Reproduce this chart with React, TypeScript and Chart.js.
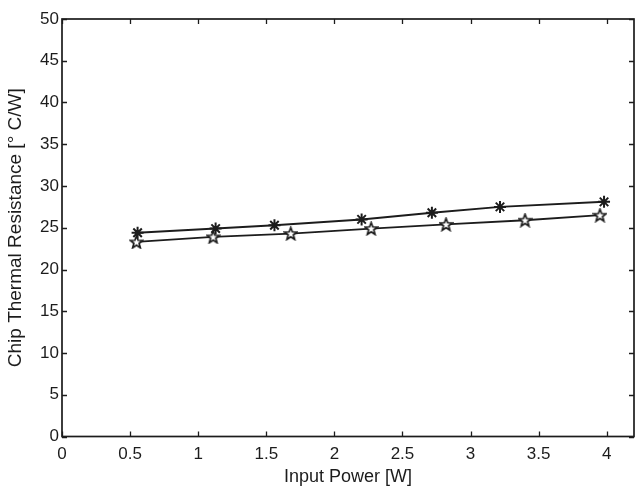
import React, { useEffect, useRef } from 'react';
import { Chart, registerables } from 'chart.js';

Chart.register(...registerables);

// Upper series (asterisk markers)
const powerUpper = [0.555, 1.128, 1.56, 2.2, 2.716, 3.216, 3.98];
const resistanceUpper = [24.4, 24.9, 25.3, 26.0, 26.8, 27.5, 28.1];
// Lower series (pentagram markers)
const powerLower = [0.547, 1.11, 1.68, 2.27, 2.82, 3.4, 3.95];
const resistanceLower = [23.3, 23.9, 24.3, 24.9, 25.4, 25.9, 26.5];

const xTickValues = [0, 0.5, 1, 1.5, 2, 2.5, 3, 3.5, 4];
const yTickValues = [0, 5, 10, 15, 20, 25, 30, 35, 40, 45, 50];

const xTitle = 'Input Power [W]';
const yTitle = 'Chip Thermal Resistance [° C/W]';

const INK = '#1c1c1c';
const FONT = '"Liberation Sans", Arial, Helvetica, sans-serif';

function makePentagram(size: number): HTMLCanvasElement {
  const c = document.createElement('canvas');
  c.width = size;
  c.height = size;
  const ctx = c.getContext('2d')!;
  const cx = size / 2;
  const cy = size / 2 + 0.5;
  const R = size / 2 - 1;
  const r = R * 0.42;
  ctx.beginPath();
  for (let i = 0; i < 10; i++) {
    const rad = i % 2 === 0 ? R : r;
    const a = -Math.PI / 2 + (i * Math.PI) / 5;
    const px = cx + rad * Math.cos(a);
    const py = cy + rad * Math.sin(a);
    if (i === 0) ctx.moveTo(px, py);
    else ctx.lineTo(px, py);
  }
  ctx.closePath();
  ctx.fillStyle = '#ffffff';
  ctx.fill();
  ctx.lineWidth = 1.7;
  ctx.strokeStyle = INK;
  ctx.stroke();
  return c;
}

const boxPlugin = {
  id: 'boxTicks',
  beforeDraw(chart: any) {
    const { ctx, width, height } = chart;
    ctx.save();
    ctx.fillStyle = '#ffffff';
    ctx.fillRect(0, 0, width, height);
    ctx.restore();
  },
  afterDraw(chart: any) {
    const { ctx, chartArea } = chart;
    const { left, right, top, bottom } = chartArea;
    const xs = chart.scales.x;
    const ys = chart.scales.y;
    const len = 5;
    ctx.save();
    ctx.strokeStyle = INK;
    ctx.lineWidth = 1.3;
    ctx.beginPath();
    for (const v of xTickValues) {
      const px = Math.round(xs.getPixelForValue(v)) + 0.5;
      ctx.moveTo(px, bottom);
      ctx.lineTo(px, bottom - len);
      ctx.moveTo(px, top);
      ctx.lineTo(px, top + len);
    }
    for (const v of yTickValues) {
      const py = Math.round(ys.getPixelForValue(v)) + 0.5;
      ctx.moveTo(left, py);
      ctx.lineTo(left + len, py);
      ctx.moveTo(right, py);
      ctx.lineTo(right - len, py);
    }
    ctx.stroke();
    ctx.lineWidth = 1.7;
    ctx.strokeRect(left, top, right - left, bottom - top);
    ctx.restore();
  },
};

export default function App() {
  const ref = useRef<HTMLCanvasElement | null>(null);

  useEffect(() => {
    if (!ref.current) return;
    const star5 = makePentagram(15);
    const chart = new Chart(ref.current, {
      type: 'line',
      data: {
        datasets: [
          {
            label: 'upper',
            data: powerUpper.map((x, i) => ({ x, y: resistanceUpper[i] })),
            borderColor: INK,
            backgroundColor: INK,
            borderWidth: 2,
            pointStyle: 'star',
            pointRadius: 6,
            pointBorderWidth: 2,
            pointBorderColor: INK,
            tension: 0,
          },
          {
            label: 'lower',
            data: powerLower.map((x, i) => ({ x, y: resistanceLower[i] })),
            borderColor: INK,
            backgroundColor: INK,
            borderWidth: 1.8,
            pointStyle: star5 as any,
            pointRadius: 7,
            tension: 0,
          },
        ],
      },
      options: {
        animation: false,
        responsive: true,
        maintainAspectRatio: false,
        layout: { autoPadding: false, padding: { top: 19, right: 3, left: 0, bottom: 0 } },
        plugins: {
          legend: { display: false },
          tooltip: { enabled: false },
        },
        scales: {
          x: {
            type: 'linear',
            min: 0,
            max: 4.2,
            afterBuildTicks: (s: any) => {
              s.ticks = xTickValues.map((v) => ({ value: v }));
            },
            afterFit: (s: any) => {
              s.height = 54.5;
              s.paddingLeft = 0;
              s.paddingRight = 0;
            },
            grid: { display: false, drawTicks: false },
            border: { display: false },
            ticks: {
              color: INK,
              padding: 8,
              maxRotation: 0,
              autoSkip: false,
              font: { family: FONT, size: 17 },
              callback: (v: any) => String(v),
            },
            title: {
              display: true,
              text: xTitle,
              color: INK,
              font: { family: FONT, size: 18 },
              padding: { top: 0, bottom: 3 },
            },
          },
          y: {
            type: 'linear',
            min: 0,
            max: 50,
            afterBuildTicks: (s: any) => {
              s.ticks = yTickValues.map((v) => ({ value: v }));
            },
            afterFit: (s: any) => {
              s.width = 62;
              s.paddingTop = 0;
              s.paddingBottom = 0;
            },
            grid: { display: false, drawTicks: false },
            border: { display: false },
            ticks: {
              color: INK,
              padding: 3,
              autoSkip: false,
              font: { family: FONT, size: 17 },
              callback: (v: any) => String(v),
            },
            title: {
              display: true,
              text: yTitle,
              color: INK,
              font: { family: FONT, size: 19 },
              padding: { top: 4, bottom: 0 },
            },
          },
        },
      },
      plugins: [boxPlugin],
    });
    return () => chart.destroy();
  }, []);

  return (
    <div
      style={{
        position: 'absolute',
        left: 0,
        top: 0,
        width: 637,
        height: 491,
        background: '#ffffff',
      }}
    >
      <canvas ref={ref} />
    </div>
  );
}
